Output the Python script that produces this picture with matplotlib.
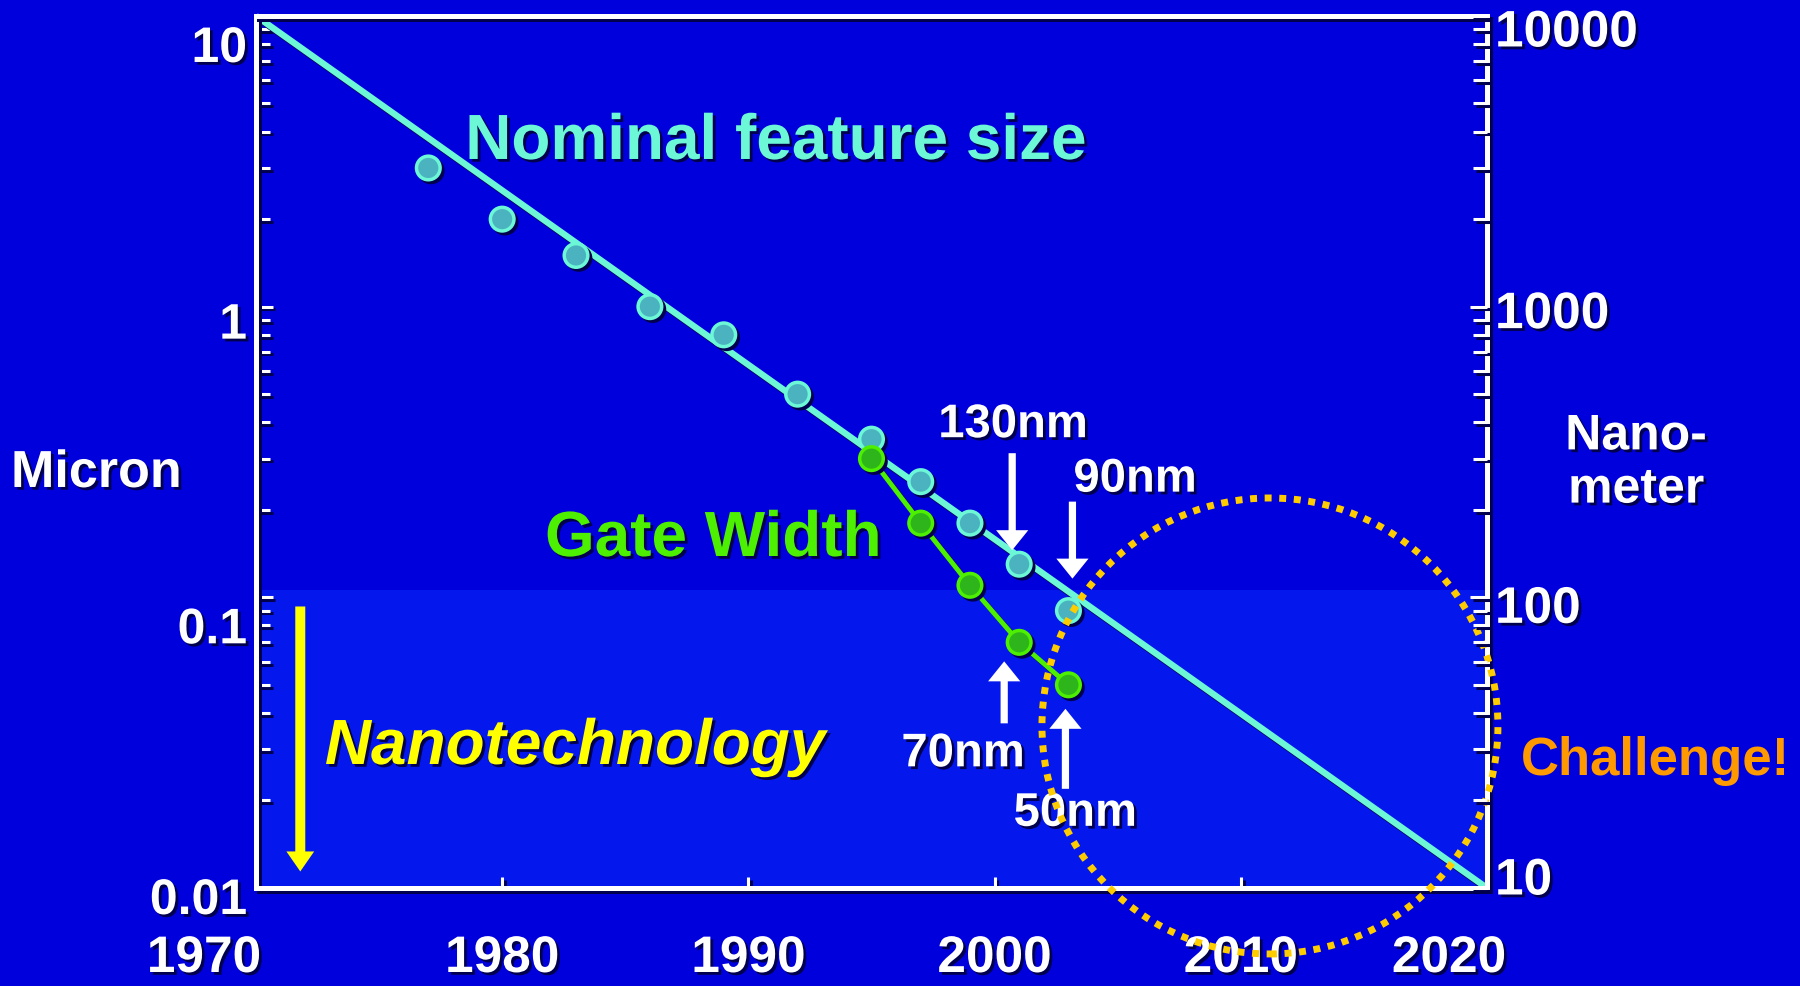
import numpy as np
import matplotlib.pyplot as plt
import matplotlib.patheffects as pe
from matplotlib.patches import Ellipse
from matplotlib.ticker import FixedLocator, LogLocator, NullFormatter
from matplotlib.transforms import offset_copy

plt.rcParams["font.family"] = ["Liberation Sans", "DejaVu Sans"]
plt.rcParams["font.weight"] = "bold"

# ---------------- data ----------------
nominal_years = [1977, 1980, 1983, 1986, 1989, 1992, 1995, 1997, 1999, 2001, 2003]
nominal_um = [3.0, 2.0, 1.5, 1.0, 0.8, 0.5, 0.35, 0.25, 0.18, 0.13, 0.09]
gate_years = [1995, 1997, 1999, 2001, 2003]
gate_um = [0.30, 0.18, 0.11, 0.07, 0.05]
trend_years = [1970, 2020]
trend_um = [10, 0.01]
nano_band_um = [0.01, 0.106]
nano_arrow_year = 1971.8
nano_arrow_um = [0.093, 0.0114]   # tail, tip

x_ticks = [1970, 1980, 1990, 2000, 2010, 2020]
left_ticks = [10, 1, 0.1, 0.01]
left_labels = ["10", "1", "0.1", "0.01"]
right_ticks = [10000, 1000, 100, 10]
right_labels = ["10000", "1000", "100", "10"]

# node callouts: label, which series, index in that series
callouts = [("130nm", "nominal", 9), ("90nm", "nominal", 10),
            ("70nm", "gate", 3), ("50nm", "gate", 4)]

# ---------------- styles ----------------
BG = "#0000dc"
BAND = "#0418ee"
CYAN = "#6cf7d6"
CYAN_FILL = "#4bb3c0"
GREEN = "#4cf000"
GREEN_FILL = "#2fb51c"
YELLOW = "#ffff00"
ORANGE = "#ff9900"
DOTS = "#ffcc00"
SHADOW = "#00004e"

txt_sh = [pe.SimplePatchShadow(offset=(2, -2), shadow_rgbFace=SHADOW, alpha=1), pe.Normal()]
line_sh = [pe.SimpleLineShadow(offset=(2, -2), shadow_color=SHADOW, alpha=1), pe.Normal()]
mark_sh = [pe.SimplePatchShadow(offset=(2, -2), shadow_rgbFace=SHADOW, alpha=1),
           pe.SimpleLineShadow(offset=(2, -2), shadow_color=SHADOW, alpha=1), pe.Normal()]

fig = plt.figure(figsize=(18, 9.87), dpi=100, facecolor=BG)
ax = fig.add_axes([0.1422, 0.0993, 0.6839, 0.8835])
ax.set_facecolor(BG)
ax.set_xlim(1970, 2020)
ax.set_yscale("log")
ax.set_ylim(0.01, 10)

# nanotechnology band
ax.axhspan(nano_band_um[0], nano_band_um[1], color=BAND, lw=0, zorder=0)

# trend line + data
ax.plot(trend_years, trend_um, color=CYAN, lw=4.6, solid_capstyle="butt",
        zorder=3, clip_on=False, path_effects=line_sh)
ax.plot(nominal_years, nominal_um, ls="none", marker="o", ms=17, mfc=CYAN_FILL,
        mec=CYAN, mew=2.5, zorder=4, path_effects=mark_sh)
ax.plot(gate_years, gate_um, color=GREEN, lw=3.5, zorder=5, path_effects=line_sh)
ax.plot(gate_years, gate_um, ls="none", marker="o", ms=17, mfc=GREEN_FILL,
        mec=GREEN, mew=2.5, zorder=6, path_effects=mark_sh)

# spines / ticks
for s in ax.spines.values():
    s.set_color("white")
    s.set_linewidth(3.6)
    s.set_path_effects(line_sh)
    s.set_zorder(7)

ax.yaxis.set_major_locator(FixedLocator(left_ticks))
ax.yaxis.set_minor_locator(LogLocator(base=10, subs=range(2, 10)))
ax.yaxis.set_major_formatter(NullFormatter())
ax.yaxis.set_minor_formatter(NullFormatter())
ax.tick_params(axis="y", which="major", direction="in", length=12, width=2.2,
               color="white", left=True, right=False)
ax.tick_params(axis="y", which="minor", direction="in", length=10, width=2.2,
               color="white", left=True, right=False)
ax.set_xticks(x_ticks[1:-1])
ax.set_xticklabels([])
ax.tick_params(axis="x", direction="in", length=8, width=2.2, color="white",
               bottom=True, top=False)

ax2 = ax.twinx()
ax2.set_yscale("log")
ax2.set_ylim(10, 10000)
for s in ax2.spines.values():
    s.set_visible(False)
ax2.yaxis.set_major_locator(FixedLocator(right_ticks))
ax2.yaxis.set_minor_locator(LogLocator(base=10, subs=range(2, 10)))
ax2.yaxis.set_major_formatter(NullFormatter())
ax2.yaxis.set_minor_formatter(NullFormatter())
ax2.tick_params(axis="y", which="major", direction="in", length=12, width=2.2,
                color="white", left=False, right=True)
ax2.tick_params(axis="y", which="minor", direction="in", length=10, width=2.2,
                color="white", left=False, right=True)

for a in (ax, ax2):
    for t in a.yaxis.get_ticklines() + a.yaxis.get_ticklines(minor=True) + a.xaxis.get_ticklines():
        t.set_path_effects(line_sh)

# tick labels (the slide sets them a little below the tick marks)
left_drop = [33, 19, 33, 13]
right_drop = [17, 8, 12, -7]
for v, s, d in zip(left_ticks, left_labels, left_drop):
    ax.annotate(s, xy=(0, v), xycoords=("axes fraction", "data"), xytext=(-9, -d),
                textcoords="offset pixels", ha="right", va="center", fontsize=36,
                color="white", path_effects=txt_sh, annotation_clip=False)
for v, s, d in zip(right_ticks, right_labels, right_drop):
    ax2.annotate(s, xy=(1, v), xycoords=("axes fraction", "data"), xytext=(8, -d),
                 textcoords="offset pixels", ha="left", va="center", fontsize=37,
                 color="white", path_effects=txt_sh, annotation_clip=False)
x_shift = {1970: -52, 2020: -38}
for yr in x_ticks:
    ax.annotate(str(yr), xy=(yr, 0), xycoords=("data", "axes fraction"),
                xytext=(x_shift.get(yr, 0), -84), textcoords="offset pixels",
                ha="center", va="baseline", fontsize=37, color="white",
                path_effects=txt_sh, annotation_clip=False)

# labels
ax.text(0.170, 0.836, "Nominal feature size", transform=ax.transAxes, fontsize=46,
        color=CYAN, va="baseline", path_effects=txt_sh, zorder=8)
ax.text(0.2348, 0.3807, "Gate Width", transform=ax.transAxes, fontsize=46,
        color=GREEN, va="baseline", path_effects=txt_sh, zorder=8)
ax.text(0.056, 0.1422, "Nanotechnology", transform=ax.transAxes, fontsize=46,
        style="italic", color=YELLOW, va="baseline", path_effects=txt_sh, zorder=8)
fig.text(0.0061, 0.5056, "Micron", fontsize=37.5, color="white", va="baseline",
         path_effects=txt_sh)
fig.text(0.909, 0.5299, "Nano-\nmeter", fontsize=36, color="white", ha="center",
         va="center", linespacing=1.2, path_effects=txt_sh)
fig.text(0.845, 0.2148, "Challenge!", fontsize=38, color=ORANGE, va="baseline")

# yellow arrow
ax.annotate("", xy=(nano_arrow_year, nano_arrow_um[1]),
            xytext=(nano_arrow_year, nano_arrow_um[0]),
            arrowprops=dict(arrowstyle="simple,head_length=0.36,head_width=0.5,tail_width=0.18",
                            mutation_scale=40, fc=YELLOW, ec="none", shrinkA=0, shrinkB=0),
            zorder=8)

# white node arrows, placed relative to the point they mark (pixel offsets)
# label dx, label dy, ha, arrow dx, tip dy, tail dy
callout_style = {
    "130nm": (-6, 127, "center", -7, 14, 111),
    "90nm": (5, 119, "left", 4, 32, 109),
    "70nm": (-56, -124, "center", -15, -19, -81),
    "50nm": (7, -141, "center", -3, -24, -104),
}
series = {"nominal": (nominal_years, nominal_um), "gate": (gate_years, gate_um)}
for label, key, i in callouts:
    xs, ys = series[key]
    p = (xs[i], ys[i])
    ldx, ldy, ha, adx, tip, tail = callout_style[label]
    ax.annotate("", xy=p, xycoords=offset_copy(ax.transData, fig=fig, x=adx, y=tip, units="dots"),
                xytext=p, textcoords=offset_copy(ax.transData, fig=fig, x=adx, y=tail, units="dots"),
                arrowprops=dict(arrowstyle="simple,head_length=0.36,head_width=0.58,tail_width=0.13",
                                mutation_scale=40, fc="white", ec="none", shrinkA=0, shrinkB=0),
                zorder=8)
    ax.annotate(label, xy=p, xytext=(ldx, ldy), textcoords="offset pixels", ha=ha,
                va="baseline", fontsize=34, color="white", path_effects=txt_sh, zorder=8)

# dotted "challenge" circle
circ = Ellipse((0.8237, 0.1858), 0.3704, 0.5229, transform=ax.transAxes, fill=False,
               ec=DOTS, lw=5, ls=(0, (1, 1.1)), clip_on=False, zorder=10)
ax.add_patch(circ)

fig.savefig("out.png", dpi=100, facecolor=BG)
